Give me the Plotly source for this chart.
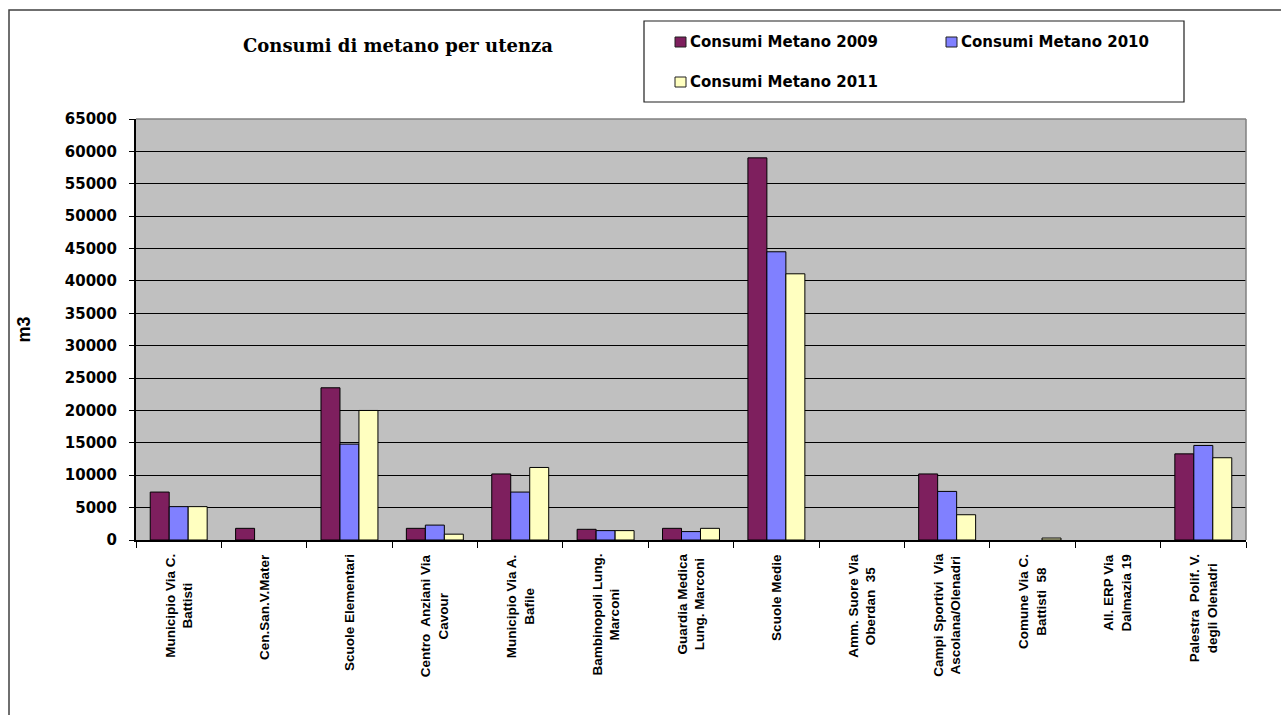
import plotly.graph_objects as go

categories = [
    "Municipio Via C.<br>Battisti",
    "Cen.San.V.Mater",
    "Scuole Elementari",
    "Centro  Anziani Via<br>Cavour",
    "Municipio Via A.<br>Bafile",
    "Bambinopoli Lung.<br>Marconi",
    "Guardia Medica<br>Lung. Marconi",
    "Scuole Medie",
    "Amm. Suore Via<br>Oberdan  35",
    "Campi Sportivi  Via<br>Ascolana/Olenadri",
    "Comune Via C.<br>Battisti  58",
    "All. ERP Via<br>Dalmazia 19",
    "Palestra  Polif. V.<br>degli Olenadri",
]
series_names = ["Consumi Metano 2009", "Consumi Metano 2010", "Consumi Metano 2011"]
v2009 = [7400, 1800, 23500, 1800, 10200, 1650, 1800, 59000, 0, 10200, 0, 0, 13300]
v2010 = [5150, 0, 14800, 2300, 7400, 1450, 1300, 44500, 0, 7500, 0, 0, 14600]
v2011 = [5150, 0, 20000, 900, 11200, 1450, 1800, 41100, 0, 3900, 300, 0, 12700]
y_ticks = list(range(0, 65001, 5000))
title_text = "Consumi di metano per utenza"
y_title = "m3"

colors = ["#7E1F5E", "#8080FF", "#FFFFC0"]
W, H = 1281, 715
L, R, T, B = 136, 1246, 119, 540


def fx(px):
    return (px - L) / (R - L)


def fy(py):
    return (B - py) / (B - T)


fig = go.Figure()
ids = list(range(len(categories)))
for name, vals, col in zip(series_names, [v2009, v2010, v2011], colors):
    fig.add_trace(go.Bar(
        x=ids, y=vals, name=name,
        marker=dict(color=col,
                    line=dict(color="black", width=[1 if v > 0 else 0 for v in vals])),
        showlegend=False,
    ))

shapes = []
annotations = []
# outer chart border (left/top visible)
shapes.append(dict(type="rect", xref="paper", yref="paper",
                   x0=fx(9), x1=fx(1300), y0=fy(740), y1=fy(10),
                   line=dict(color="#404040", width=1.5), layer="below"))
# plot area border top/right
shapes.append(dict(type="line", xref="paper", yref="paper",
                   x0=0, x1=1, y0=1, y1=1, line=dict(color="#808080", width=1.5)))
shapes.append(dict(type="line", xref="paper", yref="paper",
                   x0=1, x1=1, y0=0, y1=1, line=dict(color="#808080", width=1.5)))
# legend box
shapes.append(dict(type="rect", xref="paper", yref="paper",
                   x0=fx(644), x1=fx(1184), y0=fy(102), y1=fy(21),
                   line=dict(color="#202020", width=1.2), fillcolor="white"))
legend_pos = [(675, 42), (946, 42), (675, 82)]
for (lx, ly), name, col in zip(legend_pos, series_names, colors):
    shapes.append(dict(type="rect", xref="paper", yref="paper",
                       x0=fx(lx), x1=fx(lx + 11), y0=fy(ly + 5), y1=fy(ly - 5),
                       line=dict(color="#202020", width=1), fillcolor=col))
    annotations.append(dict(text=name, xref="paper", yref="paper",
                            x=fx(lx + 13), y=fy(ly), xanchor="left", yanchor="middle",
                            showarrow=False,
                            font=dict(family="DejaVu Sans", size=15, color="black", weight="bold")))

# title
annotations.append(dict(text=title_text, xref="paper", yref="paper",
                        x=fx(398), y=fy(45), xanchor="center", yanchor="middle",
                        showarrow=False,
                        font=dict(family="DejaVu Serif", size=18, color="black", weight="bold")))
# y axis title
annotations.append(dict(text=y_title, xref="paper", yref="paper",
                        x=fx(23), y=0.5, xanchor="center", yanchor="middle",
                        textangle=-90, showarrow=False,
                        font=dict(family="Liberation Sans", size=18, color="black", weight="bold")))
# category labels
for i, c in enumerate(categories):
    annotations.append(dict(text=c, xref="x", yref="paper",
                            x=i, y=fy(552), xanchor="center", yanchor="top",
                            textangle=-90, align="center", showarrow=False,
                            font=dict(family="Liberation Sans", size=13.5, color="black", weight="bold")))

fig.update_layout(
    width=W, height=H,
    margin=dict(l=L, r=W - R, t=T, b=H - B),
    paper_bgcolor="white", plot_bgcolor="#C0C0C0",
    barmode="group", bargap=0.333, bargroupgap=0,
    shapes=shapes, annotations=annotations,
    showlegend=False,
)
fig.update_xaxes(
    type="linear", range=[-0.5, len(categories) - 0.5],
    tickmode="array", tickvals=[i - 0.5 for i in range(len(categories) + 1)],
    showticklabels=False, ticks="outside", ticklen=6, tickcolor="black", tickwidth=1,
    showgrid=False, zeroline=False,
    showline=True, linecolor="black", linewidth=2,
)
fig.update_yaxes(
    range=[0, 65000], tickmode="array", tickvals=y_ticks,
    ticktext=[str(v) for v in y_ticks],
    ticks="outside", ticklen=5, tickcolor="black", tickwidth=1,
    tickfont=dict(family="DejaVu Sans", size=15, color="black", weight="bold"),
    ticklabelstandoff=9,
    showgrid=True, gridcolor="black", gridwidth=1,
    zeroline=False, showline=True, linecolor="black", linewidth=2,
)

fig.write_html("out.html", config={"displayModeBar": False},
               post_script="document.body.style.margin='0';document.body.style.overflow='hidden';")
